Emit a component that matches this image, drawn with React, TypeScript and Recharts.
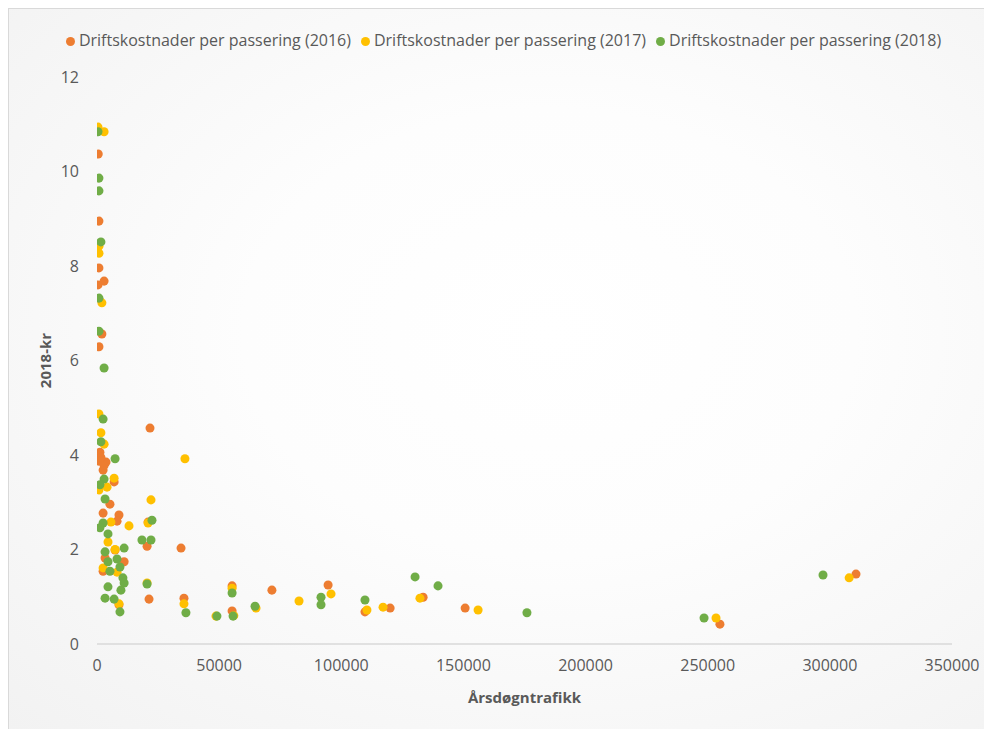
import React from 'react';
import { ScatterChart, Scatter, XAxis, YAxis, ZAxis, Legend } from 'recharts';

const seriesNames = [
  'Driftskostnader per passering (2016)',
  'Driftskostnader per passering (2017)',
  'Driftskostnader per passering (2018)',
];
const seriesColors = ['#ED7D31', '#FFC000', '#70AD47'];

const xTicks = [0, 50000, 100000, 150000, 200000, 250000, 300000, 350000];
const yTicks = [0, 2, 4, 6, 8, 10, 12];

const data2016 = [
  { x: 500, y: 10.37 }, { x: 800, y: 8.95 }, { x: 800, y: 7.96 }, { x: 2900, y: 7.68 },
  { x: 400, y: 7.6 }, { x: 2000, y: 6.56 }, { x: 800, y: 6.29 }, { x: 21700, y: 4.57 },
  { x: 1200, y: 4.06 }, { x: 800, y: 3.87 }, { x: 2500, y: 3.68 }, { x: 3700, y: 3.85 },
  { x: 2900, y: 3.78 }, { x: 1600, y: 3.95 }, { x: 7000, y: 3.43 }, { x: 5300, y: 2.96 },
  { x: 2500, y: 2.77 }, { x: 9000, y: 2.73 }, { x: 8200, y: 2.6 }, { x: 20900, y: 2.58 },
  { x: 20500, y: 2.07 }, { x: 34400, y: 2.03 }, { x: 7400, y: 1.99 }, { x: 3300, y: 1.82 },
  { x: 11100, y: 1.74 }, { x: 2500, y: 1.54 }, { x: 21300, y: 0.95 }, { x: 35600, y: 0.97 },
  { x: 9000, y: 0.83 }, { x: 55300, y: 1.23 }, { x: 55300, y: 0.7 }, { x: 71600, y: 1.14 },
  { x: 94600, y: 1.25 }, { x: 109700, y: 0.68 }, { x: 120000, y: 0.76 }, { x: 133500, y: 0.99 },
  { x: 150700, y: 0.76 }, { x: 255000, y: 0.42 }, { x: 310700, y: 1.48 },
];

const data2017 = [
  { x: 400, y: 10.94 }, { x: 2900, y: 10.84 }, { x: 800, y: 8.42 }, { x: 800, y: 8.27 },
  { x: 2000, y: 7.22 }, { x: 800, y: 4.87 }, { x: 1600, y: 4.47 }, { x: 2900, y: 4.23 },
  { x: 7000, y: 3.51 }, { x: 800, y: 3.26 }, { x: 4100, y: 3.32 }, { x: 22100, y: 3.05 },
  { x: 36000, y: 3.92 }, { x: 5700, y: 2.58 }, { x: 13100, y: 2.5 }, { x: 20900, y: 2.56 },
  { x: 4500, y: 2.16 }, { x: 7400, y: 2.0 }, { x: 2500, y: 1.61 }, { x: 8200, y: 1.52 },
  { x: 9000, y: 0.85 }, { x: 20500, y: 1.29 }, { x: 35600, y: 0.85 }, { x: 55300, y: 1.18 },
  { x: 56000, y: 0.6 }, { x: 48700, y: 0.59 }, { x: 65100, y: 0.76 }, { x: 82700, y: 0.91 },
  { x: 95800, y: 1.06 }, { x: 110500, y: 0.72 }, { x: 117100, y: 0.78 }, { x: 132200, y: 0.97 },
  { x: 156000, y: 0.72 }, { x: 253400, y: 0.55 }, { x: 307900, y: 1.4 },
];

const data2018 = [
  { x: 400, y: 10.84 }, { x: 800, y: 9.86 }, { x: 800, y: 9.59 }, { x: 1600, y: 8.51 },
  { x: 800, y: 7.32 }, { x: 800, y: 6.62 }, { x: 2900, y: 5.84 }, { x: 2500, y: 4.76 },
  { x: 1600, y: 4.28 }, { x: 7400, y: 3.92 }, { x: 2900, y: 3.49 }, { x: 1200, y: 3.37 },
  { x: 3300, y: 3.07 }, { x: 22500, y: 2.62 }, { x: 2500, y: 2.56 }, { x: 1200, y: 2.46 },
  { x: 4500, y: 2.33 }, { x: 18400, y: 2.2 }, { x: 22100, y: 2.2 }, { x: 11100, y: 2.03 },
  { x: 3300, y: 1.95 }, { x: 4500, y: 1.74 }, { x: 8200, y: 1.8 }, { x: 9400, y: 1.63 },
  { x: 5300, y: 1.54 }, { x: 10600, y: 1.4 }, { x: 11100, y: 1.29 }, { x: 20500, y: 1.27 },
  { x: 4500, y: 1.21 }, { x: 9800, y: 1.14 }, { x: 3300, y: 0.97 }, { x: 7000, y: 0.95 },
  { x: 9400, y: 0.68 }, { x: 36400, y: 0.66 }, { x: 49100, y: 0.59 }, { x: 55300, y: 1.08 },
  { x: 55700, y: 0.59 }, { x: 64700, y: 0.8 }, { x: 91700, y: 0.99 }, { x: 91700, y: 0.83 },
  { x: 109700, y: 0.93 }, { x: 130200, y: 1.42 }, { x: 139600, y: 1.23 }, { x: 176000, y: 0.66 },
  { x: 248500, y: 0.55 }, { x: 297200, y: 1.46 },
];

const allData = [data2016, data2017, data2018];

const FONT = '"Open Sans", "Liberation Sans", sans-serif';
const GREY = '#595959';

const YTitle = (props: any) => {
  const vb = props.viewBox || { x: 0, y: 0, width: 0, height: 0 };
  const cx = vb.x + 8;
  const cy = vb.y + vb.height / 2;
  return (
    <text
      x={cx}
      y={cy}
      transform={`rotate(-90, ${cx}, ${cy})`}
      textAnchor="middle"
      dominantBaseline="central"
      fill={GREY}
      fontFamily={FONT}
      fontSize={15}
      fontWeight="bold"
    >
      2018-kr
    </text>
  );
};

const XTitle = (props: any) => {
  const vb = props.viewBox || { x: 0, y: 0, width: 0, height: 0 };
  const cx = vb.x + vb.width / 2;
  const cy = vb.y + 53;
  return (
    <text
      x={cx}
      y={cy}
      textAnchor="middle"
      dominantBaseline="central"
      fill={GREY}
      fontFamily={FONT}
      fontSize={15}
      fontWeight="bold"
    >
      Årsdøgntrafikk
    </text>
  );
};

export default function App() {
  return (
    <div
      style={{
        width: 984,
        height: 721,
        boxSizing: 'border-box',
        borderTop: '1px solid #d9d9d9',
        borderLeft: '1px solid #d9d9d9',
        background: 'radial-gradient(ellipse at 55% 45%, #ffffff 0%, #fdfdfd 40%, #f2f2f2 100%)',
        fontFamily: FONT,
      }}
    >
      <ScatterChart
        width={983}
        height={720}
        margin={{ top: 46, right: 40, left: 28, bottom: 25 }}
      >
        <XAxis
          type="number"
          dataKey="x"
          domain={[0, 350000]}
          ticks={xTicks}
          interval={0}
          tickLine={false}
          axisLine={{ stroke: '#d9d9d9', strokeWidth: 1.5 }}
          tick={{ fill: GREY, fontSize: 16, fontFamily: FONT }}
          tickMargin={10}
          height={60}
          allowDataOverflow
          label={{ content: XTitle }}
        />
        <YAxis
          type="number"
          dataKey="y"
          domain={[0, 12]}
          ticks={yTicks}
          interval={0}
          tickLine={false}
          axisLine={false}
          tick={{ fill: GREY, fontSize: 16, fontFamily: FONT }}
          tickMargin={12}
          width={60}
          label={{ content: YTitle }}
        />
        <ZAxis range={[80, 80]} />
        <Legend
          verticalAlign="top"
          align="center"
          iconType="circle"
          iconSize={9}
          wrapperStyle={{ top: 20, left: 42, fontFamily: FONT, fontSize: 16 }}
          formatter={(value: any) => <span style={{ color: GREY }}>{value}</span>}
        />
        {allData.map((d, i) => (
          <Scatter
            key={seriesNames[i]}
            name={seriesNames[i]}
            data={d}
            fill={seriesColors[i]}
            isAnimationActive={false}
          />
        ))}
      </ScatterChart>
    </div>
  );
}
